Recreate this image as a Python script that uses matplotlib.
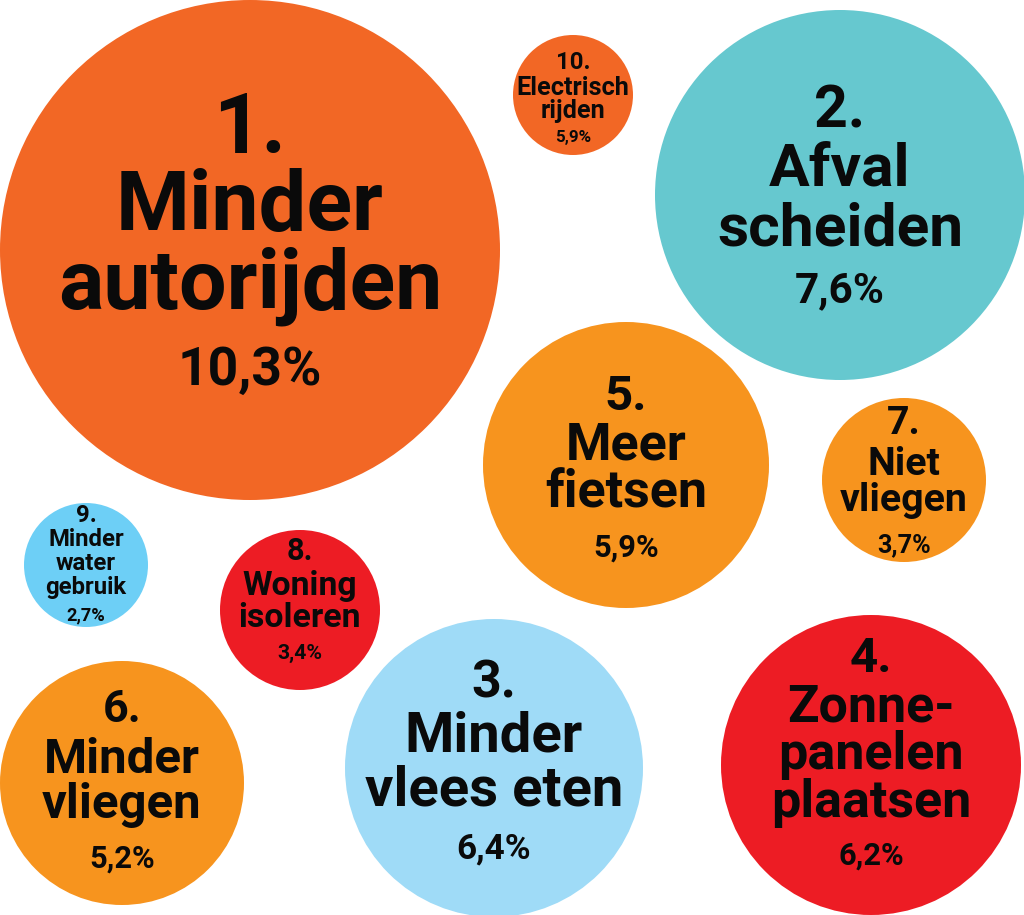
import matplotlib
matplotlib.use("Agg")
import matplotlib.pyplot as plt  # type: ignore
from matplotlib.patches import Circle  # type: ignore


# data
ranks = [1, 2, 3, 4, 5, 6, 7, 8, 9, 10]
labels = [
    "Minder\nautorijden",
    "Afval\nscheiden",
    "Minder\nvlees eten",
    "Zonne-\npanelen\nplaatsen",
    "Meer\nfietsen",
    "Minder\nvliegen",
    "Niet\nvliegen",
    "Woning\nisoleren",
    "Minder\nwater\ngebruik",
    "Electrisch\nrijden",
]
values = [10.3, 7.6, 6.4, 6.2, 5.9, 5.2, 3.7, 3.4, 2.7, 5.9]

# layout (pixels): centre x, centre y, radius
centres = [(250, 250), (840, 195), (494, 768), (871, 765), (626, 465),
           (122, 783), (904, 480), (300, 610), (86, 565), (573, 95)]
radii = [250, 185, 149, 150, 143, 122, 82, 80, 62, 60]
colors = ["#F26725", "#66C8CF", "#9FDBF7", "#ED1C24", "#F7941E",
          "#F7941E", "#F7941E", "#ED1C24", "#6DCFF6", "#F26725"]

# text layout: (num cap, label cap, pct cap, num base, first label base, line step, pct base)
text_layout = [
    (60, 60, 38, -97, -20, 78, 135),
    (42, 43, 30, -68, -10, 60, 107),
    (37, 40, 25, -71, -16, 53, 90),
    (35, 37, 22, -93, -43, 47.5, 100),
    (35, 37, 22, -55, -5, 48, 92),
    (32, 35, 22, -61, -10, 45, 85),
    (28, 28, 18, -46, -5, 36, 72),
    (22, 24, 15, -50, -15, 32, 49),
    (17, 17, 13, -43, -19, 24, 55),
    (17, 18, 12, -26, 0, 23, 47),
]

FONT = ["Roboto", "DejaVu Sans"]


def cap_to_pt(cap_px):
    # Roboto cap height ~0.711 em, figure at 100 dpi
    return cap_px / 0.711 * 72 / 100


fig = plt.figure(figsize=(10.24, 9.15), dpi=100)
ax = fig.add_axes([0, 0, 1, 1])
ax.set_xlim(0, 1024)
ax.set_ylim(915, 0)
ax.set_aspect("equal")
ax.axis("off")

for i in range(len(ranks)):
    cx, cy = centres[i]
    ax.add_patch(Circle((cx, cy), radii[i], facecolor=colors[i], edgecolor="none"))

    num_cap, lab_cap, pct_cap, num_b, lab_b, step, pct_b = text_layout[i]
    kw = dict(ha="center", va="baseline", color="#0a0a0a", fontweight="bold", family=FONT)
    ax.text(cx, cy + num_b, f"{ranks[i]}.", fontsize=cap_to_pt(num_cap), **kw)
    for j, line in enumerate(labels[i].split("\n")):
        ax.text(cx, cy + lab_b + j * step, line, fontsize=cap_to_pt(lab_cap), **kw)
    pct = f"{values[i]:.1f}%".replace(".", ",")
    ax.text(cx, cy + pct_b, pct, fontsize=cap_to_pt(pct_cap), **kw)

fig.savefig("out.png", dpi=100, facecolor="white")
